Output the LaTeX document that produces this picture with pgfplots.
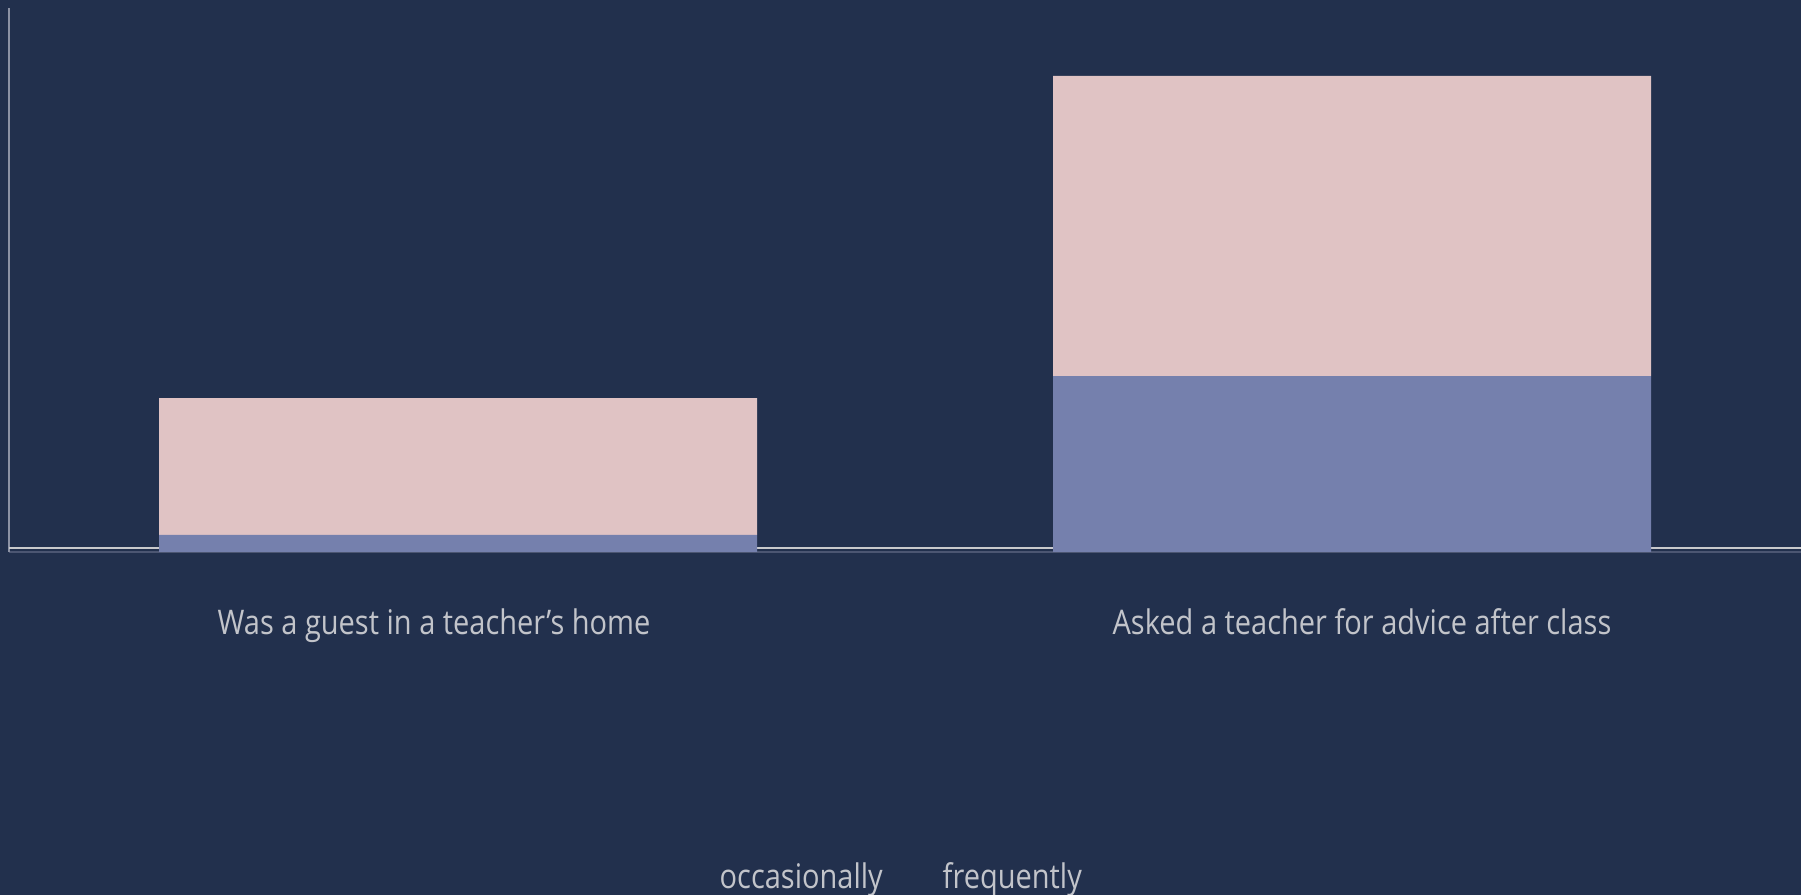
\documentclass[border=0pt]{standalone}
\usepackage{fontspec}
\setmainfont[FakeStretch=0.855]{Open Sans}
\usepackage{pgfplots}
\pgfplotsset{compat=1.18}
\definecolor{bg}{HTML}{22304D}
\definecolor{barblue}{HTML}{7580AD}
\definecolor{barpink}{HTML}{E0C3C4}
\definecolor{txt}{HTML}{C2C4CA}
\definecolor{leftax}{HTML}{8C92A4}
\definecolor{botax}{HTML}{C8C9CC}
\definecolor{faint}{HTML}{4C5672}
\begin{document}
\begin{tikzpicture}[x=1cm,y=1cm]
\useasboundingbox (0,0) rectangle (18.01,8.95);
\fill[bg] (0,0) rectangle (18.01,8.95);
\begin{axis}[
  at={(0.09cm,3.43cm)}, anchor=south west,
  scale only axis, width=17.92cm, height=5.44cm,
  xmin=9, xmax=1801, ymin=0, ymax=100,
  axis lines*=left,
  x axis line style={draw=faint, line width=0.4pt, -},
  y axis line style={draw=leftax, line width=0.4pt, -},
  ybar stacked, bar width=598,
  xtick={434,1362},
  xticklabels={Was a guest in a teacher’s home, Asked a teacher for advice after class},
  major tick length=0pt,
  xticklabel style={anchor=base, yshift=-0.83cm, text=txt, font=\fontsize{9.65pt}{11pt}\selectfont},
  ytick=\empty,
  clip=false,
]
\addplot[draw=none, fill=barblue] coordinates {(458,3.125) (1352,32.35)};
\addplot[draw=none, fill=barpink] coordinates {(458,25.18) (1352,55.15)};
\draw[botax, line width=0.4pt] (axis cs:9,0.735) -- (axis cs:1801,0.735);
\end{axis}
\node[anchor=base west, inner sep=0pt, text=txt, font=\fontsize{9.65pt}{11pt}\selectfont] at (7.19,0.06) {occasionally};
\node[anchor=base west, inner sep=0pt, text=txt, font=\fontsize{9.65pt}{11pt}\selectfont] at (9.42,0.06) {frequently};
\end{tikzpicture}
\end{document}
